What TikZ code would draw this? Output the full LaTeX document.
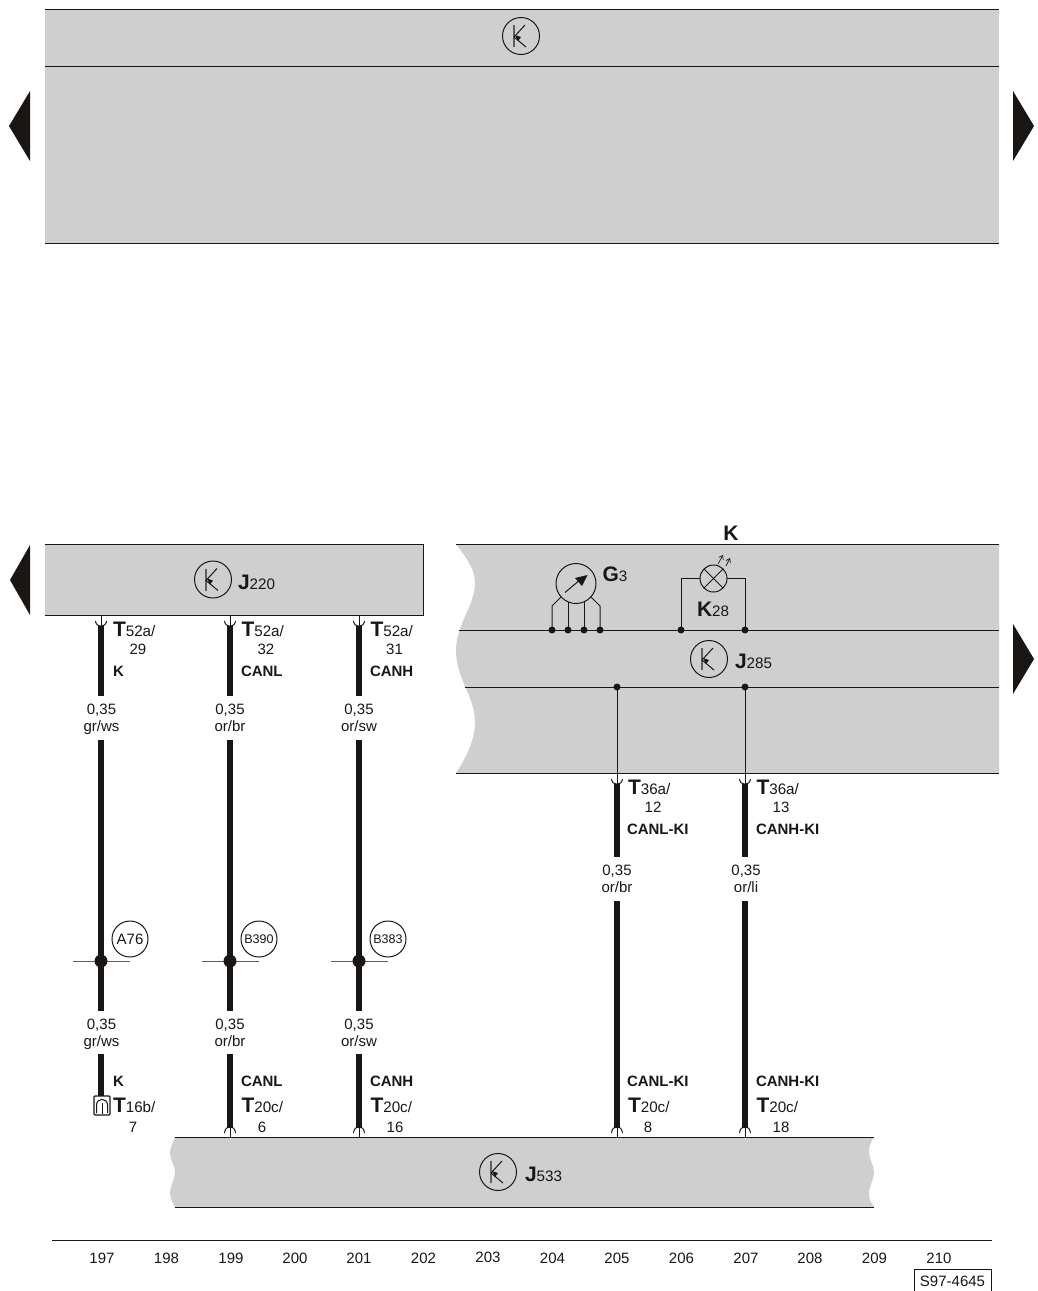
\documentclass[tikz,border=0pt]{standalone}
\usepackage{fontspec}
\usetikzlibrary{arrows.meta}
\setmainfont{Liberation Sans}
\definecolor{panel}{HTML}{CFCFCF}
\definecolor{ink}{HTML}{1A1614}
\newcommand{\Tlab}[2]{{\fontsize{21}{21}\selectfont\bfseries #1}{\fontsize{15.2}{15.2}\selectfont #2}}
\tikzset{
  x=1pt,y=-1pt,
  every node/.style={inner sep=0pt,outer sep=0pt,text=ink},
  panelfill/.style={fill=panel,draw=none},
  rule/.style={draw=ink,line width=.9pt},
  thin wire/.style={draw=ink,line width=1pt},
  wire/.style={draw=ink,line width=6.5pt},
  dot/.style={circle,fill=ink,minimum size=7pt},
  bigdot/.style={circle,fill=ink,minimum size=13pt},
  txt/.style={font=\fontsize{15}{15}\selectfont},
  basetxt/.style={font=\fontsize{15}{15}\selectfont,anchor=base},
  bold/.style={font=\fontsize{15}{15}\selectfont\bfseries,anchor=west},
  nav/.style={fill=ink,draw=none},
  tag/.style={anchor=base west}
}
% transistor symbol: name, x, y
\newcommand{\ctrl}[3]{%
  \node[circle,draw=ink,line width=1pt,minimum size=37pt] (#1) at (#2,#3) {};
  \draw[draw=ink!60!panel,line width=1.2pt] (#2-7,#3-11) -- (#2-7,#3+11);
  \draw[draw=ink,line width=1pt] (#2+4,#3-11) -- (#2-7,#3+1) -- (#2+5,#3+11);
  \fill[ink] (#2-6,#3-1) -- (#2-0,#3+1) -- (#2-3,#3+5) -- cycle;
}
% upper connector: name, x, ytop
\newcommand{\forkdown}[3]{%
  \coordinate (#1s) at (#2,#3);
  \coordinate (#1e) at (#2,#3+11);
  \draw[thin wire] (#1s) -- (#1e);
  \draw[thin wire] (#2-5.5,#3+6) .. controls (#2-5,#3+13) and (#2+5,#3+13) .. (#2+5.5,#3+6);
}
% lower connector: name, x
\newcommand{\forkup}[2]{%
  \coordinate (#1s) at (#2,1137);
  \coordinate (#1e) at (#2,1128);
  \draw[thin wire] (#1s) -- (#1e);
  \draw[thin wire] (#2-5.5,1133) .. controls (#2-5,1124.5) and (#2+5,1124.5) .. (#2+5.5,1133);
}
% two line label
\newcommand{\gauge}[4]{%
  \node[basetxt] (#1a) at (#2,#3+5) {0,35};
  \node[basetxt] (#1b) at (#2,#3+22) {#4};
}
\begin{document}
\begin{tikzpicture}
\useasboundingbox (0,0) rectangle (1038,1291);
\clip (0,0) rectangle (1038,1291);

% ---- top panel
\fill[panelfill] (45,9) rectangle (999,243);
\draw[rule] (45,9) -- (999,9);
\draw[rule] (45,66) -- (999,66);
\draw[rule] (45,243) -- (999,243);
\ctrl{ctop}{521}{36}
\fill[nav] (9,126) -- (30,91) -- (30,161) -- cycle;
\fill[nav] (1034,126) -- (1013,91) -- (1013,161) -- cycle;

% ---- J220
\fill[panelfill] (45,544) rectangle (423,615);
\draw[rule] (45,544.5) -- (423.5,544.5) -- (423.5,615) -- (45,615);
\ctrl{cjA}{213}{579.5}
\node[tag] (jA) at (238,589) {\Tlab{J}{220}};
\fill[nav] (10,580) -- (30,545) -- (30,615) -- cycle;

% ---- J285
\fill[panelfill] (456,544) .. controls (468,560) and (475,570) .. (475,583)
  .. controls (475,605) and (456,625) .. (456,650)
  .. controls (456,680) and (475,695) .. (475,723)
  .. controls (475,740) and (465,760) .. (456,773)
  -- (999,773) -- (999,544) -- cycle;
\draw[rule] (456,544.5) -- (999,544.5);
\draw[rule] (456,773) -- (999,773);
\coordinate (busAl) at (459,630); \coordinate (busAr) at (999,630);
\coordinate (busBl) at (465,687); \coordinate (busBr) at (999,687);
\draw[rule] (busAl) -- (busAr);
\draw[rule] (busBl) -- (busBr);
\node[font=\fontsize{21}{21}\selectfont\bfseries] (kk) at (731,533) {K};
\fill[nav] (1034,659) -- (1013,624) -- (1013,694) -- cycle;
\ctrl{cjB}{709}{659}
\node[tag] (jB) at (735,668.5) {\Tlab{J}{285}};

% G3
\node[circle,draw=ink,line width=1pt,minimum size=40pt] (gg) at (576,583.5) {};
\draw[draw=ink,line width=1pt] (565,592.5) -- (581,579);
\fill[ink] (587.5,575) -- (575,578) -- (582,586) -- cycle;
\node[dot] (g1) at (552,630) {};
\node[dot] (g2) at (568,630) {};
\node[dot] (g3) at (584,630) {};
\node[dot] (g4) at (600,630) {};
\draw[thin wire] (g1.center) -- (552,606) -- (561,597);
\draw[thin wire] (g2.center) -- (568,602);
\draw[thin wire] (g3.center) -- (584,602);
\draw[thin wire] (g4.center) -- (600,606) -- (591,597);
\node[tag] (gl) at (602.5,581) {\Tlab{G}{3}};

% K28
\node[circle,draw=ink,line width=1pt,minimum size=27pt] (lamp) at (713.5,578.5) {};
\draw[thin wire] (lamp.north west) -- (lamp.south east);
\draw[thin wire] (lamp.north east) -- (lamp.south west);
\node[dot] (l1) at (681,630) {};
\node[dot] (l2) at (745,630) {};
\draw[thin wire] (lamp.west) -- (681,578.5) -- (l1.center);
\draw[thin wire] (lamp.east) -- (745,578.5) -- (l2.center);
\draw[ink,line width=.7pt,-{Straight Barb[length=3.5pt,width=5pt]}] (718,564) -- (723,555);
\draw[ink,line width=.7pt,-{Straight Barb[length=3.5pt,width=5pt]}] (726,566) -- (730,558);
\node[tag] (kl) at (697,616) {\Tlab{K}{28}};

% ---- J533
\fill[panelfill] (175,1137) .. controls (172,1145) and (170,1148) .. (170,1153)
  .. controls (170,1160) and (175,1165) .. (175,1172)
  .. controls (175,1180) and (170,1185) .. (170,1192)
  .. controls (170,1197) and (172,1202) .. (175,1207)
  -- (874,1207) .. controls (871,1202) and (869,1200) .. (869,1195)
  .. controls (869,1185) and (874,1180) .. (874,1172)
  .. controls (874,1165) and (869,1160) .. (869,1150)
  .. controls (869,1146) and (871,1142) .. (874,1137) -- cycle;
\draw[rule] (175,1137) -- (874,1137);
\draw[rule] (175,1207) -- (874,1207);
\ctrl{cjC}{498}{1172}
\node[tag] (jC) at (525,1181) {\Tlab{J}{533}};

% ---- left wires
\forkdown{a}{101}{615}
\forkdown{b}{230}{615}
\forkdown{c}{359}{615}
\coordinate (a1) at (101,696); \coordinate (a2) at (101,740); \coordinate (a3) at (101,1011); \coordinate (a4) at (101,1054); \coordinate (a5) at (101,1098);
\coordinate (b1) at (230,696); \coordinate (b2) at (230,740); \coordinate (b3) at (230,1011); \coordinate (b4) at (230,1054);
\coordinate (c1) at (359,696); \coordinate (c2) at (359,740); \coordinate (c3) at (359,1011); \coordinate (c4) at (359,1054);
\forkup{bu}{230}
\forkup{cu}{359}
\draw[wire] (ae) -- (a1);
\draw[wire] (be) -- (b1);
\draw[wire] (ce) -- (c1);
\draw[wire] (a2) -- (a3);
\draw[wire] (b2) -- (b3);
\draw[wire] (c2) -- (c3);
\draw[wire] (a4) -- (a5);
\draw[wire] (b4) -- (bue);
\draw[wire] (c4) -- (cue);

% T16b connector
\node[draw=ink,line width=1.3pt,minimum width=16pt,minimum height=19pt,fill=white,rounded corners=1pt] (tsb) at (102,1105.5) {};
\draw[thin wire] (96.5,1113) -- (96.5,1105) .. controls (96.5,1097.5) and (107.5,1097.5) .. (107.5,1105) -- (107.5,1113);
\draw[thin wire] (102,1103) -- (102,1114);

% junctions
\foreach \n/\x/\t/\s in {ja/101/A76/15,jb/230/B390/12.5,jc/359/B383/12.5}{
  \coordinate (\n l) at (\x-28,961); \coordinate (\n r) at (\x+29,961);
  \draw[draw=ink!70!white,line width=1pt] (\n l) -- (\n r);
  \node[bigdot] (\n) at (\x,961) {};
  \node[circle,draw=ink,line width=1pt,minimum size=36pt,font=\fontsize{\s}{\s}\selectfont] (\n t) at (\x+29,939) {\t};
}

% labels, left column
\node[tag] (ta) at (113,636) {\Tlab{T}{52a/}};
\node[tag] (tb) at (241.5,636) {\Tlab{T}{52a/}};
\node[tag] (tc) at (370.5,636) {\Tlab{T}{52a/}};
\node[txt] (na) at (138,649) {29};
\node[txt] (nb) at (266,649) {32};
\node[txt] (nc) at (394.5,649) {31};
\node[bold] (la) at (113,671) {K};
\node[bold] (lb) at (241,671) {CANL};
\node[bold] (lc) at (370,671) {CANH};
\gauge{ga}{101.5}{709}{gr/ws}
\gauge{gb}{230}{709}{or/br}
\gauge{gc}{359}{709}{or/sw}
\gauge{gd}{101.5}{1024}{gr/ws}
\gauge{ge}{230}{1024}{or/br}
\gauge{gf}{359}{1024}{or/sw}
\node[bold] (lla) at (113,1081) {K};
\node[bold] (llb) at (241,1081) {CANL};
\node[bold] (llc) at (370,1081) {CANH};
\node[tag] (tta) at (113,1112) {\Tlab{T}{16b/}};
\node[tag] (ttb) at (241.5,1112) {\Tlab{T}{20c/}};
\node[tag] (ttc) at (370.5,1112) {\Tlab{T}{20c/}};
\node[txt] (nna) at (133,1127) {7};
\node[txt] (nnb) at (262,1127) {6};
\node[txt] (nnc) at (395,1127) {16};

% ---- right wires
\node[dot] (d1) at (617,687) {};
\node[dot] (d2) at (745,687) {};
\forkdown{d}{617}{773}
\forkdown{e}{745}{773}
\draw[thin wire] (d1.center) -- (ds);
\draw[thin wire] (d2.center) -- (es);
\coordinate (d3) at (617,857); \coordinate (d4) at (617,901);
\coordinate (e3) at (745,857); \coordinate (e4) at (745,901);
\forkup{du}{617}
\forkup{eu}{745}
\draw[wire] (de) -- (d3);
\draw[wire] (ee) -- (e3);
\draw[wire] (d4) -- (due);
\draw[wire] (e4) -- (eue);
\node[tag] (td) at (628,794) {\Tlab{T}{36a/}};
\node[tag] (te) at (756.5,794) {\Tlab{T}{36a/}};
\node[txt] (nd) at (653,807) {12};
\node[txt] (ne) at (781,807) {13};
\node[bold] (ld) at (627,829) {CANL-KI};
\node[bold] (le) at (756,829) {CANH-KI};
\gauge{gd2}{617}{870}{or/br}
\gauge{ge2}{746}{870}{or/li}
\node[bold] (lld) at (627,1081) {CANL-KI};
\node[bold] (lle) at (756,1081) {CANH-KI};
\node[tag] (ttd) at (628,1112) {\Tlab{T}{20c/}};
\node[tag] (tte) at (756.5,1112) {\Tlab{T}{20c/}};
\node[txt] (nnd) at (648,1127) {8};
\node[txt] (nne) at (781,1127) {18};

% ---- footer
\draw[draw=ink,line width=1pt] (52,1240.5) -- (992,1240.5);
\foreach \x/\n/\y in {102/197/1258,166.5/198/1258,231/199/1258,295/200/1258,359/201/1258,423.5/202/1258,488/203/1257,552.5/204/1258,617/205/1258,681.5/206/1258,746/207/1258,810/208/1258,874.5/209/1258,939/210/1258}{
  \node[txt] (f\n) at (\x,\y) {\n};
}
\draw[draw=ink,line width=1pt] (914.5,1293) -- (914.5,1269) -- (991.5,1269) -- (991.5,1293);
\node[txt] (code) at (952.5,1281) {S97-4645};
\end{tikzpicture}
\end{document}
